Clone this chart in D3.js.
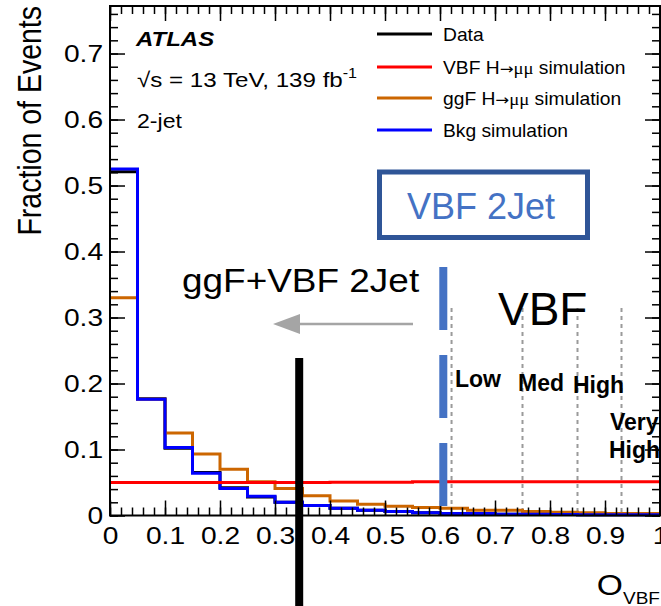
<!DOCTYPE html>
<html>
<head>
<meta charset="utf-8">
<script src="https://cdn.jsdelivr.net/npm/d3@7"></script>
<style>
  body { margin: 0; background: #fff; }
  svg { display: block; font-family: "Liberation Sans", Arial, Helvetica, sans-serif; }
  .hist { fill: none; stroke-width: 3px; }
  .tick line { stroke: #000; stroke-width: 1.5px; }
  .domain { display: none; }
</style>
</head>
<body>
<svg width="661" height="606"></svg>
<script>
// bin edges of O_VBF and the fraction of events in each bin
var binEdges = [0, 0.05, 0.1, 0.15, 0.2, 0.25, 0.3, 0.35, 0.4, 0.45, 0.5, 0.55, 0.6, 0.65, 0.7, 0.75, 0.8, 0.85, 0.9, 0.95, 1];
var dataFrac = [0.521, 0.177, 0.102, 0.065, 0.042, 0.028, 0.020, 0.015, 0.011, 0.008, 0.006, 0.004, 0.003, 0.003, 0.002, 0.002, 0.0015, 0.0012, 0.001, 0.001];
var vbfFrac  = [0.050, 0.050, 0.050, 0.050, 0.050, 0.050, 0.050, 0.050, 0.0505, 0.0505, 0.0505, 0.051, 0.051, 0.051, 0.051, 0.051, 0.051, 0.051, 0.051, 0.051];
var ggfFrac  = [0.330, 0.176, 0.125, 0.093, 0.070, 0.051, 0.041, 0.030, 0.022, 0.017, 0.014, 0.012, 0.011, 0.008, 0.008, 0.006, 0.005, 0.004, 0.003, 0.003];
var bkgFrac  = [0.525, 0.176, 0.103, 0.064, 0.041, 0.029, 0.020, 0.015, 0.011, 0.008, 0.006, 0.004, 0.003, 0.003, 0.002, 0.002, 0.0015, 0.001, 0.001, 0.001];

var xTickLabels = ["0", "0.1", "0.2", "0.3", "0.4", "0.5", "0.6", "0.7", "0.8", "0.9", "1"];
var yTickLabels = ["0", "0.1", "0.2", "0.3", "0.4", "0.5", "0.6", "0.7"];

var legendNames  = ["Data", "VBF", "ggF", "Bkg simulation"];
var legendColors = ["#000000", "#ff0000", "#cc6600", "#0000ff"];

// category boundaries on O_VBF
var cutFull = 0.344;          // ggF+VBF 2Jet | VBF
var cutVbf = 0.606;           // blue dashed
var vbfCats = [0.621, 0.75, 0.85, 0.93];

var svg = d3.select("svg");
var x = d3.scaleLinear().domain([0, 1]).range([110, 660]);
var y = d3.scaleLinear().domain([0, 0.772]).range([515.5, 6]);

// text in the picture is drawn a bit wider than the font
function label(px, py, str, size, sx, opts) {
	opts = opts || {};
	return svg.append("text")
		.attr("transform", "translate(" + px + "," + py + ") scale(" + sx + ",1)")
		.attr("font-size", size)
		.attr("font-weight", opts.weight || null)
		.attr("font-style", opts.style || null)
		.attr("text-anchor", opts.anchor || "start")
		.attr("fill", opts.fill || "#000")
		.text(str);
}

// category guide lines (behind histograms)
svg.append("g").selectAll("line")
	.data(vbfCats)
	.enter().append("line")
	.attr("x1", function(d) { return x(d); })
	.attr("x2", function(d) { return x(d); })
	.attr("y1", 308)
	.attr("y2", y(0))
	.attr("stroke", "#9a9a9a")
	.attr("stroke-width", 2)
	.attr("stroke-dasharray", "4,4");

// histograms
var step = d3.line()
	.x(function(d) { return x(d[0]); })
	.y(function(d) { return y(d[1]); })
	.curve(d3.curveStepAfter);

function histPoints(vals) {
	var pts = vals.map(function(v, i) { return [binEdges[i], v]; });
	pts.push([binEdges[binEdges.length - 1], vals[vals.length - 1]]);
	return pts;
}

var series = [
	{ vals: dataFrac, color: legendColors[0] },
	{ vals: ggfFrac, color: legendColors[2] },
	{ vals: bkgFrac, color: legendColors[3] },
	{ vals: vbfFrac, color: legendColors[1] }
];

svg.append("g").selectAll("path")
	.data(series)
	.enter().append("path")
	.attr("class", "hist")
	.attr("stroke", function(d) { return d.color; })
	.attr("d", function(d) { return step(histPoints(d.vals)); });

// axes: ticks on all four sides, pointing inwards
var xMajor = xTickLabels.map(Number);
var yMajor = yTickLabels.map(Number);
var xMinor = d3.range(0, 1.0001, 0.02);
var yMinor = d3.range(0, 0.7701, 0.02);

function addAxis(axis, tx, ty) {
	return svg.append("g").attr("transform", "translate(" + tx + "," + ty + ")").call(axis);
}

addAxis(d3.axisBottom(x).tickValues(xMinor).tickSize(-8).tickFormat(""), 0, y(0));
addAxis(d3.axisTop(x).tickValues(xMinor).tickSize(-8).tickFormat(""), 0, 6);
addAxis(d3.axisLeft(y).tickValues(yMinor).tickSize(-8).tickFormat(""), 110, 0);
addAxis(d3.axisRight(y).tickValues(yMinor).tickSize(-8).tickFormat(""), 660, 0);

addAxis(d3.axisTop(x).tickValues(xMajor).tickSize(-15).tickFormat(""), 0, 6);
addAxis(d3.axisRight(y).tickValues(yMajor).tickSize(-15).tickFormat(""), 660, 0);

var xAx = addAxis(d3.axisBottom(x).tickValues(xMajor).tickSize(-15).tickPadding(11)
	.tickFormat(function(d, i) { return xTickLabels[i]; }), 0, y(0));
var yAx = addAxis(d3.axisLeft(y).tickValues(yMajor).tickSize(-15).tickPadding(6)
	.tickFormat(function(d, i) { return yTickLabels[i]; }), 110, 0);

[xAx, yAx].forEach(function(ax) {
	ax.selectAll("text")
		.attr("font-family", "Liberation Sans, Arial, sans-serif")
		.attr("font-size", 24.5)
		.attr("fill", "#000")
		.attr("transform", "scale(1.15,1)");
});

// frame
svg.append("rect")
	.attr("x", x(0)).attr("y", y(0.772))
	.attr("width", x(1) - x(0)).attr("height", y(0) - y(0.772))
	.attr("fill", "none").attr("stroke", "#000").attr("stroke-width", 2);

// axis titles
svg.append("text")
	.attr("transform", "translate(41,6) rotate(-90) scale(1,1.17)")
	.attr("text-anchor", "end")
	.attr("font-size", 28.5)
	.text("Fraction of Events");

var xt = label(660, 595, "O", 30, 1.12, { anchor: "end" });
xt.append("tspan").attr("font-size", 17).attr("dy", 9).text("VBF");

// ATLAS label
label(136, 46, "ATLAS", 20, 1.2, { weight: "bold", style: "italic" });
var lumi = label(137, 87, "\u221As = 13 TeV, 139 fb", 21, 1.15);
lumi.append("tspan").attr("font-size", 14).attr("dy", -9).text("-1");
label(137, 128, "2-jet", 21, 1.1);

// legend
var legY = [34, 67, 98, 130];
var leg = svg.append("g").selectAll("g")
	.data(legendNames)
	.enter().append("g");

leg.append("line")
	.attr("x1", 377).attr("x2", 432)
	.attr("y1", function(d, i) { return legY[i]; })
	.attr("y2", function(d, i) { return legY[i]; })
	.attr("stroke", function(d, i) { return legendColors[i]; })
	.attr("stroke-width", 3);

leg.each(function(d, i) {
	var t = label(443, legY[i] + 6.5, "", 17.5, 1.1);
	if (d === "VBF" || d === "ggF") {
		t.append("tspan").text(d + " H");
		t.append("tspan").attr("font-family", "DejaVu Sans, sans-serif").attr("font-size", 15).text("\u2192");
		t.append("tspan").attr("font-family", "Liberation Serif, serif").attr("font-size", 17).text("\u03BC\u03BC");
		t.append("tspan").text(" simulation");
	} else {
		t.text(d);
	}
});

// annotations
svg.append("rect")
	.attr("x", 379.5).attr("y", 172)
	.attr("width", 208).attr("height", 65.5)
	.attr("fill", "none").attr("stroke", "#2f5597").attr("stroke-width", 5);
label(407, 219, "VBF 2Jet", 36, 1, { fill: "#4472c4" });

label(182, 292, "ggF+VBF 2Jet", 33, 1.12);

svg.append("line")
	.attr("x1", 413).attr("x2", 296)
	.attr("y1", 324).attr("y2", 324)
	.attr("stroke", "#a5a5a5").attr("stroke-width", 2.5);
svg.append("path")
	.attr("d", "M273,324L300,314L300,334Z")
	.attr("fill", "#a5a5a5");

label(498, 325, "VBF", 46, 1);
label(455, 387, "Low", 23, 1, { weight: "bold" });
label(518, 391, "Med", 23, 1, { weight: "bold" });
label(573, 393, "High", 23, 1, { weight: "bold" });
label(610, 430, "Very", 23, 1, { weight: "bold" });
label(609, 458, "High", 23, 1, { weight: "bold" });

svg.append("line")
	.attr("x1", x(cutVbf)).attr("x2", x(cutVbf))
	.attr("y1", 267).attr("y2", 507)
	.attr("stroke", "#4472c4").attr("stroke-width", 8)
	.attr("stroke-dasharray", "63,25");

svg.append("line")
	.attr("x1", x(cutFull)).attr("x2", x(cutFull))
	.attr("y1", 358).attr("y2", 606)
	.attr("stroke", "#000").attr("stroke-width", 8);
</script>
</body>
</html>
